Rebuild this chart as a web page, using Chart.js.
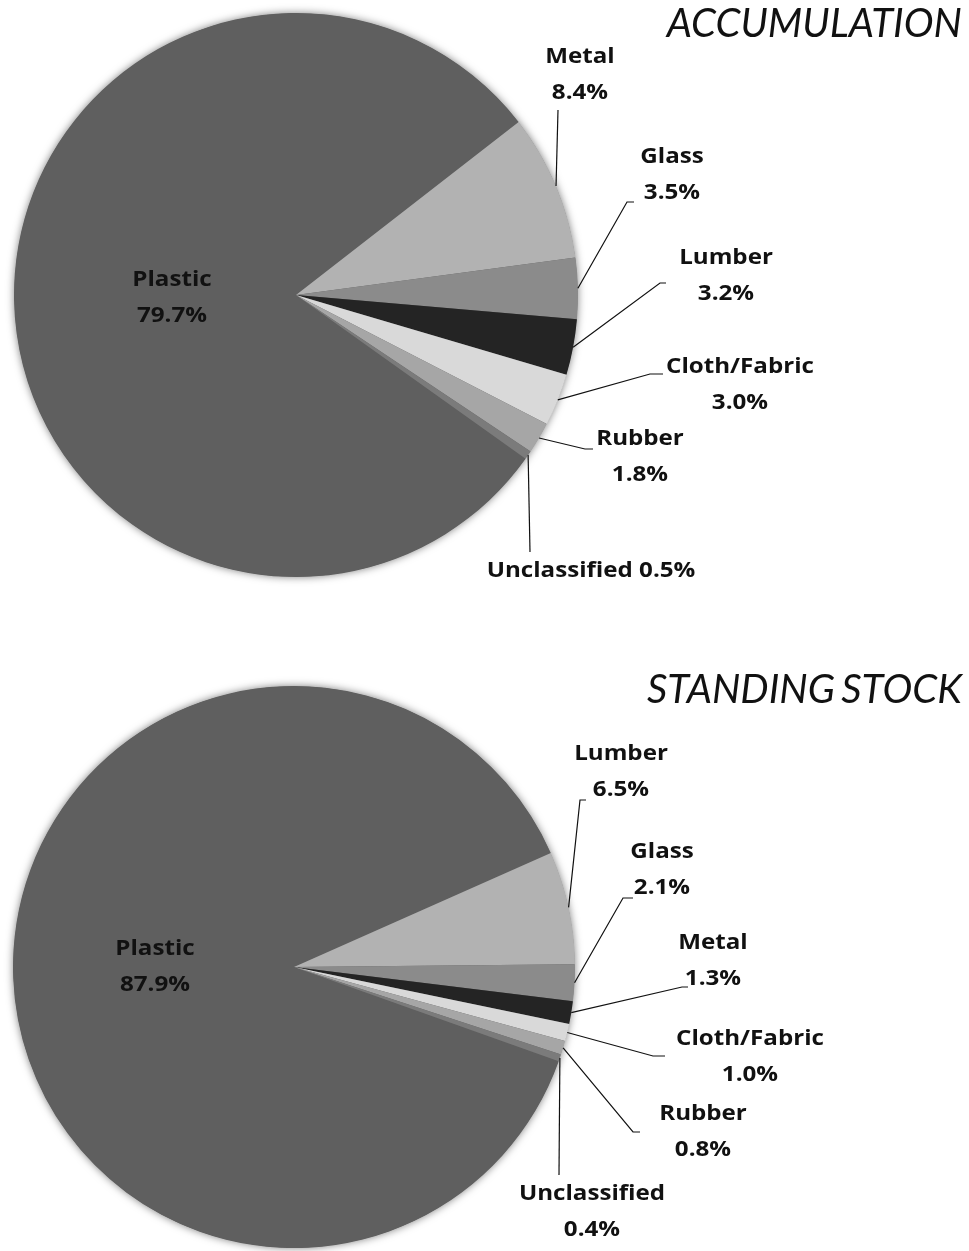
<!DOCTYPE html>
<html>
<head>
<meta charset="utf-8">
<script src="https://cdn.jsdelivr.net/npm/chart.js@4.4.0/dist/chart.umd.min.js"></script>
<style>
  html, body { margin: 0; padding: 0; background: #fff; }
  .wrap { position: relative; width: 969px; height: 1251px; }
  canvas { position: absolute; left: 0; }
  #accum { top: 0; }
  #stock { top: 625px; }
</style>
</head>
<body>
<div class="wrap">
  <canvas id="accum" width="969" height="625"></canvas>
  <canvas id="stock" width="969" height="626"></canvas>
</div>
<script>
// data
const accumLabels = ['Plastic', 'Metal', 'Glass', 'Lumber', 'Cloth/Fabric', 'Rubber', 'Unclassified'];
const accumValues = [79.7, 8.4, 3.5, 3.2, 3.0, 1.8, 0.5];

const stockLabels = ['Plastic', 'Lumber', 'Glass', 'Metal', 'Cloth/Fabric', 'Rubber', 'Unclassified'];
const stockValues = [87.9, 6.5, 2.1, 1.3, 1.0, 0.8, 0.4];

// slice shades go by position, not by material
const sliceGreys = ['#5f5f5f', '#b2b2b2', '#8b8b8b', '#242424', '#d9d9d9', '#a6a6a6', '#7b7b7b'];

// label placement, offsets from the pie centre (x, y = label centre; ex, ey = leader elbow)
const accumLabelPos = [
  { x: -124, y: 3 },
  { x: 284, y: -220, ex: 262, ey: -185, tail: 0 },
  { x: 376, y: -120, ex: 331, ey: -93, tail: 7 },
  { x: 430, y: -19, ex: 364, ey: -12, tail: 6 },
  { x: 444, y: 90, ex: 354, ey: 79, tail: 13 },
  { x: 344, y: 162, ex: 289, ey: 154, tail: 8 },
  { x: 295, y: 276, ex: 234, ey: 257, tail: 0, oneLine: true }
];
const stockLabelPos = [
  { x: -139, y: 0 },
  { x: 327, y: -195, ex: 286, ey: -167, tail: 6 },
  { x: 368, y: -97, ex: 329, ey: -69, tail: 10 },
  { x: 419, y: -6, ex: 388, ey: 20, tail: 6 },
  { x: 456, y: 90, ex: 359, ey: 89, tail: 12 },
  { x: 409, y: 165, ex: 339, ey: 165, tail: 7 },
  { x: 298, y: 245, ex: 265, ey: 208, tail: 0 }
];

// text drawn a little wider than the font, like the original's labels
function wideText(ctx, text, x, y, stretch) {
  ctx.save();
  ctx.translate(x, y);
  ctx.scale(stretch, 1);
  ctx.fillText(text, 0, 0);
  ctx.restore();
}

// soft shadow under the pie, titles and callout labels
const pieDecor = {
  id: 'pieDecor',
  beforeDatasetsDraw(chart) {
    const arc = chart.getDatasetMeta(0).data[0];
    const p = arc.getProps(['x', 'y', 'outerRadius'], true);
    const ctx = chart.ctx;
    ctx.save();
    ctx.shadowColor = 'rgba(0,0,0,0.55)';
    ctx.shadowBlur = 9;
    ctx.fillStyle = sliceGreys[0];
    ctx.beginPath();
    ctx.arc(p.x, p.y, p.outerRadius - 0.5, 0, Math.PI * 2);
    ctx.fill();
    ctx.restore();
  },
  afterDatasetsDraw(chart, args, opts) {
    const ctx = chart.ctx;
    const arcs = chart.getDatasetMeta(0).data;
    const values = chart.data.datasets[0].data;
    const names = chart.data.labels;

    ctx.save();
    ctx.fillStyle = '#111';
    ctx.font = 'italic 40px Lato';
    ctx.textAlign = 'right';
    ctx.textBaseline = 'alphabetic';
    if ('wordSpacing' in ctx) ctx.wordSpacing = '-3px';
    ctx.fillText(opts.title, 962, opts.titleY);
    if ('wordSpacing' in ctx) ctx.wordSpacing = '0px';

    ctx.font = 'bold 21px "Open Sans"';
    ctx.strokeStyle = '#111';
    ctx.lineWidth = 1.2;
    ctx.textAlign = 'center';
    ctx.textBaseline = 'middle';
    arcs.forEach((arc, i) => {
      const p = arc.getProps(['x', 'y', 'startAngle', 'endAngle', 'outerRadius'], true);
      const pos = opts.layout[i];
      const lx = p.x + pos.x;
      const ly = p.y + pos.y;
      const pct = values[i].toFixed(1) + '%';
      if (pos.ex !== undefined) {
        const mid = (p.startAngle + p.endAngle) / 2;
        ctx.beginPath();
        ctx.moveTo(p.x + Math.cos(mid) * p.outerRadius, p.y + Math.sin(mid) * p.outerRadius);
        ctx.lineTo(p.x + pos.ex, p.y + pos.ey);
        if (pos.tail) ctx.lineTo(p.x + pos.ex + pos.tail, p.y + pos.ey);
        ctx.stroke();
      }
      if (pos.oneLine) {
        wideText(ctx, names[i] + ' ' + pct, lx, ly, 1.15);
      } else {
        wideText(ctx, names[i], lx, ly - 18, 1.15);
        wideText(ctx, pct, lx, ly + 18, 1.15);
      }
    });
    ctx.restore();
  }
};

function makePie(id, labels, values, rotation, padding, layout, title, titleY) {
  const ctx = document.getElementById(id).getContext('2d');
  return new Chart(ctx, {
    type: 'pie',
    data: {
      labels: labels,
      datasets: [{
        data: values,
        backgroundColor: sliceGreys,
        borderWidth: 0,
        hoverOffset: 0
      }]
    },
    options: {
      responsive: false,
      animation: false,
      rotation: rotation,
      layout: { padding: padding },
      plugins: {
        legend: { display: false },
        tooltip: { enabled: false },
        pieDecor: { layout: layout, title: title, titleY: titleY }
      }
    },
    plugins: [pieDecor]
  });
}

makePie('accum', accumLabels, accumValues, 125.5,
  { left: 14, right: 391, top: 13, bottom: 48 }, accumLabelPos, 'ACCUMULATION', 37);
makePie('stock', stockLabels, stockValues, 109.6,
  { left: 13, right: 394, top: 61, bottom: 3 }, stockLabelPos, 'STANDING STOCK', 78);
</script>
</body>
</html>
